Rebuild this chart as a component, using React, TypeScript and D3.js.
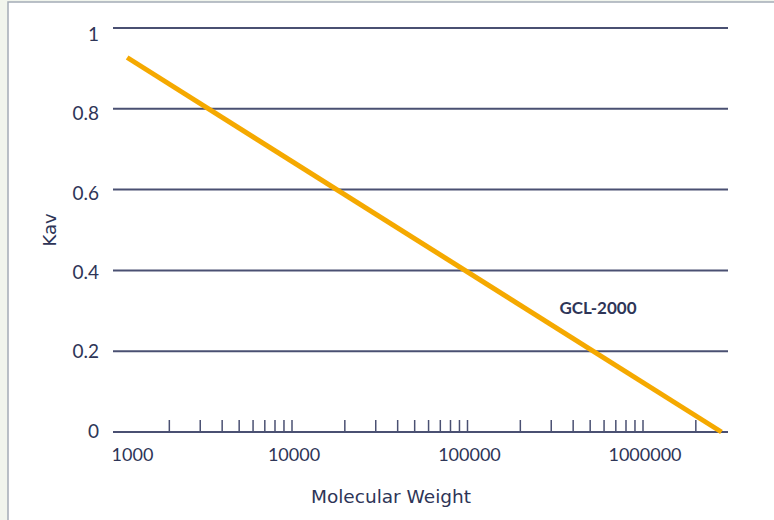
import React, { useEffect, useRef } from 'react';
import * as d3 from 'd3';

// GCL-2000 calibration line: molecular weight vs Kav
const molWeight = [1150, 2800000];
const kav = [0.927, 0];
const yTicks = [0, 0.2, 0.4, 0.6, 0.8, 1];
const xLabels = [1000, 10000, 100000, 1000000];
const seriesName = 'GCL-2000';

const ink = '#2e3557';
const gridCol = '#4a5072';
const lineCol = '#f5a900';

const App = () => {
  const ref = useRef<SVGSVGElement>(null);

  useEffect(() => {
    const svg = d3.select(ref.current);
    svg.selectAll('*').remove();

    const x = d3.scaleLog().domain([1000, 1000000]).range([116.5, 643]);
    const y = d3.scaleLinear().domain([0, 1]).range([432, 28]);
    // the tick labels sit on a slightly tighter spacing than the grid
    const yLab = d3.scaleLinear().domain([0, 1]).range([431, 34.5]);
    const font = 'Lato, "Open Sans", sans-serif';
    const wide = '"DejaVu Sans", Verdana, sans-serif';

    // page background + frame
    svg.append('rect').attr('width', 774).attr('height', 520).attr('fill', '#f1f5ed');
    svg.append('rect')
      .attr('x', 8).attr('y', 2).attr('width', 780).attr('height', 530)
      .attr('fill', 'white').attr('stroke', '#a4acb6').attr('stroke-width', 1.5);

    // horizontal grid
    svg.append('g')
      .selectAll('line')
      .data(yTicks)
      .join('line')
        .attr('x1', 113).attr('x2', 728)
        .attr('y1', d => y(d)).attr('y2', d => y(d))
        .attr('stroke', gridCol).attr('stroke-width', 2);

    svg.append('g')
      .selectAll('text')
      .data(yTicks)
      .join('text')
        .attr('x', 99).attr('y', d => yLab(d))
        .attr('dy', '0.35em')
        .attr('text-anchor', 'end')
        .attr('font-family', font).attr('font-size', 19)
        .attr('fill', ink)
        .text(d => d3.format('~g')(d));

    // minor log ticks along the bottom
    const minor = x.copy().domain([1000, 3000000]).ticks().filter(d => d > 1000 && d <= 2000000);
    svg.append('g')
      .selectAll('line')
      .data(minor)
      .join('line')
        .attr('x1', d => x(d)).attr('x2', d => x(d))
        .attr('y1', 420).attr('y2', 432)
        .attr('stroke', gridCol).attr('stroke-width', 1.5);

    svg.append('g')
      .selectAll('text')
      .data(xLabels)
      .join('text')
        .attr('x', (d, i) => x(d) + (i === 0 ? 16 : 2))
        .attr('y', 461)
        .attr('text-anchor', 'middle')
        .attr('font-family', font).attr('font-size', 18)
        .attr('fill', ink)
        .text(d => String(d));

    // the line
    const pts = molWeight.map((m, i) => [m, kav[i]] as [number, number]);
    svg.append('path')
      .datum(pts)
      .attr('d', d3.line<[number, number]>().x(d => x(d[0])).y(d => y(d[1])))
      .attr('fill', 'none')
      .attr('stroke', lineCol).attr('stroke-width', 5);

    svg.append('text')
      .attr('x', 598).attr('y', 314)
      .attr('text-anchor', 'middle')
      .attr('font-family', font).attr('font-size', 17).attr('font-weight', 'bold')
      .attr('fill', ink)
      .text(seriesName);

    // axis titles
    svg.append('text')
      .attr('x', 391).attr('y', 503)
      .attr('text-anchor', 'middle')
      .attr('font-family', wide).attr('font-size', 18.5)
      .attr('fill', ink)
      .text('Molecular Weight');

    svg.append('text')
      .attr('transform', 'translate(56,230) rotate(-90)')
      .attr('text-anchor', 'middle')
      .attr('font-family', wide).attr('font-size', 18)
      .attr('fill', ink)
      .text('Kav');
  }, []);

  return (
    <svg ref={ref} width={774} height={520}
      style={{ position: 'absolute', left: 0, top: 0 }} />
  );
};

export default App;
